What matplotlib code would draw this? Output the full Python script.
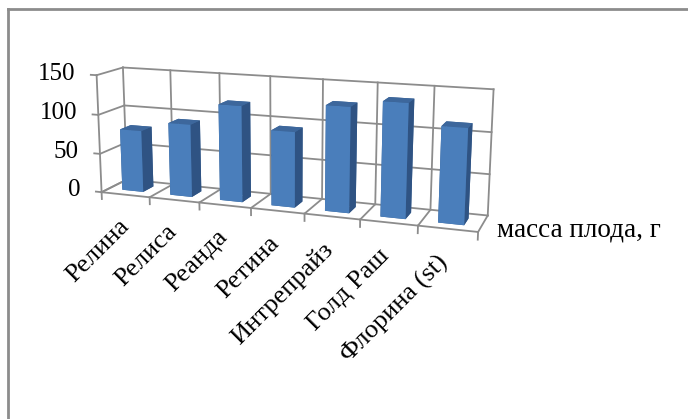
import matplotlib
matplotlib.use("Agg")
import matplotlib.pyplot as plt
from matplotlib.lines import Line2D
from mpl_toolkits.mplot3d import proj3d

# Fruit mass by variety
varieties = ["Релина", "Релиса", "Реанда", "Ретина", "Интрепрайз", "Голд Раш", "Флорина (st)"]
fruit_mass = [79, 92, 120, 93, 128, 137, 113]
value_ticks = [0, 50, 100, 150]
series_name = "масса плода, г"

plt.rcParams["font.family"] = ["Liberation Serif", "DejaVu Serif"]

GRID = "#8c8c8c"
# face order used by bar3d: bottom, top, front, back, left, right
FACE_COLORS = ["#3a6496", "#3d679c", "#4a7ebb", "#3a6496", "#3a6496", "#2f5383"]

fig = plt.figure(figsize=(6.88, 4.19), dpi=100)
ax = fig.add_axes([-0.091, 0.144, 1, 1], projection="3d", computed_zorder=False)
ax.set_proj_type("persp", focal_length=0.45)
ax.view_init(elev=13, azim=-70)
ax.set_box_aspect((6.1, 0.85, 1.92), zoom=0.97)

n = len(varieties)
x0, x1 = 0.5, n + 0.5
y0, y1 = 0.0, 1.0
z1 = value_ticks[-1]
ax.set_xlim(x0, x1)
ax.set_ylim(y0, y1)
ax.set_zlim(0, z1)
ax.set_axis_off()

line_kw = dict(color=GRID, lw=1.3, zorder=1, clip_on=False)

# back wall and side wall gridlines
for v in value_ticks:
    ax.plot([x0, x1], [y1, y1], [v, v], **line_kw)
    ax.plot([x0, x0], [y0, y1], [v, v], **line_kw)
    # value axis tick marks
    ax.plot([x0, x0 - 0.12], [y0, y0], [v, v], **line_kw)
for k in range(n + 1):
    xb = x0 + k
    ax.plot([xb, xb], [y1, y1], [0, z1], **line_kw)
    ax.plot([xb, xb], [y0, y1], [0, 0], **line_kw)
    # category axis tick marks
    ax.plot([xb, xb], [y0, y0], [0, -9], **line_kw)
ax.plot([x0, x0], [y0, y0], [0, z1], **line_kw)
ax.plot([x0, x1], [y0, y0], [0, 0], **line_kw)

# columns
w, d = 0.44, 0.42
xs = [i + 1 - w / 2 for i in range(n)]
ys = [(y1 - d) / 2] * n
colors = FACE_COLORS * n
bars = ax.bar3d(xs, ys, [0] * n, [w] * n, [d] * n, fruit_mass,
                color=colors, shade=False, edgecolor="none", zorder=2)
bars.set_clip_on(False)

fig.canvas.draw()
M = ax.get_proj()


def to2d(x, y, z):
    px, py, _ = proj3d.proj_transform(x, y, z, M)
    return px, py


txt_kw = dict(transform=ax.transData, clip_on=False)

for v in value_ticks:
    px, py = to2d(x0 - 0.45, y0, v)
    ax.text2D(px, py, str(v), ha="right", va="center", fontsize=18, **txt_kw)

for i, name in enumerate(varieties):
    px, py = to2d(i + 0.82, y0, -28)
    ax.text2D(px, py, name, rotation=45, rotation_mode="anchor",
              ha="right", va="top", fontsize=19, **txt_kw)

px, py = to2d(x1 + 0.3, y0, 5)
ax.text2D(px, py, series_name, ha="left", va="center", fontsize=19.5, **txt_kw)

# chart area border
fig.add_artist(Line2D([8 / 688, 1], [1 - 9 / 419, 1 - 9 / 419], color="#8c8c8c", lw=2))
fig.add_artist(Line2D([8 / 688, 8 / 688], [0, 1 - 9 / 419], color="#8c8c8c", lw=2))

fig.savefig("out.png", dpi=100)
